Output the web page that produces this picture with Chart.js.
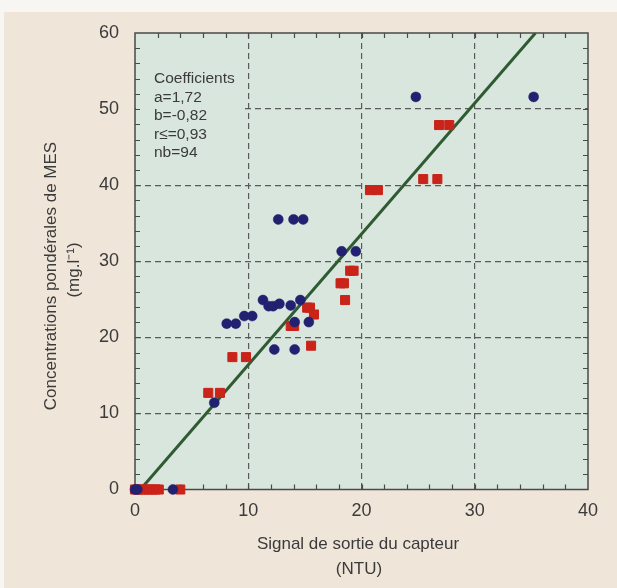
<!DOCTYPE html>
<html>
<head>
<meta charset="utf-8">
<script src="https://cdn.jsdelivr.net/npm/chart.js@4.4.1/dist/chart.umd.min.js"></script>
<style>
  html, body { margin: 0; padding: 0; background: #f7f6f3; }
  #wrap { width: 617px; height: 588px; }
</style>
</head>
<body>
<div id="wrap"><canvas id="c" width="617" height="588"></canvas></div>
<script>
// Turbidity signal (NTU) vs suspended-solids concentration (mg/l)
const blueX = [0.0, 0.2, 3.35, 7.0, 8.1, 8.9, 9.65, 10.35, 11.3, 11.8, 12.2, 12.75, 12.3, 12.65, 13.75, 14.0, 14.1, 14.1, 14.6, 14.85, 15.35, 18.25, 19.5, 24.8, 35.2];
const blueY = [0.0, 0.0, 0.0, 11.4, 21.8, 21.8, 22.8, 22.8, 24.9, 24.1, 24.1, 24.4, 18.4, 35.5, 24.2, 35.5, 22.0, 18.4, 24.9, 35.5, 22.0, 31.3, 31.3, 51.6, 51.6];

const redX = [0.0, 0.3, 0.6, 0.9, 1.2, 1.5, 1.8, 2.1, 4.0, 6.47, 7.5, 8.6, 9.8, 13.75, 14.05, 15.2, 15.45, 15.8, 15.55, 18.15, 18.45, 18.55, 19.0, 19.3, 20.75, 21.45, 25.45, 26.7, 26.85, 27.75];
const redY = [0.0, 0.0, 0.0, 0.0, 0.0, 0.0, 0.0, 0.0, 0.0, 12.7, 12.7, 17.4, 17.4, 21.5, 21.5, 23.9, 23.9, 23.0, 18.9, 27.1, 27.1, 24.9, 28.75, 28.75, 39.35, 39.35, 40.8, 40.8, 47.9, 47.9];

// Regression coefficients shown in the inset
const coefA = 1.72;
const coefB = -0.82;
const coefLines = ['Coefficients', 'a=1,72', 'b=-0,82', 'r≤=0,93', 'nb=94'];

const xTicks = [0, 10, 20, 30, 40];
const yTicks = [0, 10, 20, 30, 40, 50, 60];
const xTitle = ['Signal de sortie du capteur', '(NTU)'];
const yTitle = ['Concentrations pondérales de MES', '(mg.l\u207B\u00B9)'];

const toPts = (xs, ys) => xs.map((x, i) => ({ x: x, y: ys[i] }));
// fitted line y = a*x + b, drawn between y = 0 and y = 60
const fitLine = [
  { x: (0 - coefB) / coefA, y: 0 },
  { x: (60 - coefB) / coefA, y: 60 }
];

const FONT = '"Liberation Sans", Arial, sans-serif';
const TXT = '#3b3b3b';
const PLOT_BG = '#d9e6dd';
const PAGE_BG = '#efe5d9';
const FRAME = '#4a4a4a';

const decor = {
  id: 'decor',
  beforeDraw(chart) {
    const ctx = chart.ctx;
    const a = chart.chartArea;
    ctx.save();
    ctx.fillStyle = '#f7f6f3';
    ctx.fillRect(0, 0, chart.width, chart.height);
    ctx.fillStyle = PAGE_BG;
    ctx.fillRect(4, 12, chart.width - 4, chart.height - 12);
    ctx.fillStyle = PLOT_BG;
    ctx.fillRect(a.left, a.top, a.right - a.left, a.bottom - a.top);
    ctx.restore();
  },
  beforeDatasetsDraw(chart) {
    const ctx = chart.ctx;
    const a = chart.chartArea;
    const xs = chart.scales.x, ys = chart.scales.y;
    ctx.save();
    // inset panel behind the coefficients
    ctx.fillStyle = PLOT_BG;
    ctx.fillRect(a.left + 1, a.top + 1, xs.getPixelForValue(9.4) - a.left - 1, ys.getPixelForValue(42.5) - a.top);
    // frame
    ctx.strokeStyle = FRAME;
    ctx.lineWidth = 1.5;
    ctx.strokeRect(a.left, a.top, a.right - a.left, a.bottom - a.top);
    // inward minor ticks on all four sides
    ctx.lineWidth = 1.2;
    ctx.beginPath();
    for (let v = 2; v < 40; v += 2) {
      const px = Math.round(xs.getPixelForValue(v)) + 0.5;
      ctx.moveTo(px, a.bottom); ctx.lineTo(px, a.bottom - 5);
      ctx.moveTo(px, a.top); ctx.lineTo(px, a.top + 5);
    }
    for (let v = 2; v < 60; v += 2) {
      const py = Math.round(ys.getPixelForValue(v)) + 0.5;
      ctx.moveTo(a.left, py); ctx.lineTo(a.left + 5, py);
      ctx.moveTo(a.right, py); ctx.lineTo(a.right - 5, py);
    }
    ctx.stroke();
    // coefficients text
    ctx.fillStyle = TXT;
    ctx.font = '15.5px ' + FONT;
    ctx.textAlign = 'left';
    ctx.textBaseline = 'middle';
    coefLines.forEach((t, i) => ctx.fillText(t, 154, 79 + i * 18.5));
    // axis titles
    ctx.font = '17px ' + FONT;
    ctx.textAlign = 'center';
    ctx.fillText(xTitle[0], 358, 544);
    ctx.fillText(xTitle[1], 359, 569);
    ctx.save();
    ctx.translate(51, 276);
    ctx.rotate(-Math.PI / 2);
    ctx.fillText(yTitle[0], 0, 0);
    ctx.restore();
    ctx.save();
    ctx.translate(74, 270);
    ctx.rotate(-Math.PI / 2);
    ctx.fillText(yTitle[1], 0, 0);
    ctx.restore();
    ctx.restore();
  }
};

const gridColor = (ctx) => {
  const v = ctx.tick && ctx.tick.value;
  const s = ctx.scale;
  return (v === s.min || v === s.max) ? 'rgba(0,0,0,0)' : '#5a5a5a';
};

new Chart(document.getElementById('c'), {
  type: 'scatter',
  data: {
    datasets: [
      {
        type: 'line',
        data: fitLine,
        borderColor: '#2f5b33',
        borderWidth: 3,
        pointRadius: 0,
        fill: false,
        order: 3
      },
      {
        data: toPts(redX, redY),
        pointStyle: 'rect',
        pointRadius: 6.4,
        backgroundColor: '#c9231a',
        borderColor: '#c9231a',
        borderWidth: 1,
        clip: false,
        order: 2
      },
      {
        data: toPts(blueX, blueY),
        pointStyle: 'circle',
        pointRadius: 5,
        backgroundColor: '#222070',
        borderColor: '#222070',
        borderWidth: 0.5,
        clip: false,
        order: 1
      }
    ]
  },
  plugins: [decor],
  options: {
    responsive: false,
    animation: false,
    events: [],
    layout: { padding: { top: 33, right: 29, left: 0, bottom: 0 } },
    plugins: { legend: { display: false }, tooltip: { enabled: false } },
    scales: {
      x: {
        type: 'linear',
        min: 0, max: 40,
        afterBuildTicks: (s) => { s.ticks = xTicks.map(v => ({ value: v })); },
        afterFit: (s) => { s.height = 98.5; },
        ticks: { color: TXT, font: { family: FONT, size: 18 }, padding: 11, maxRotation: 0 },
        grid: { color: gridColor, lineWidth: 1.2, drawTicks: false },
        border: { display: false, dash: [6, 4] }
      },
      y: {
        type: 'linear',
        min: 0, max: 60,
        afterBuildTicks: (s) => { s.ticks = yTicks.map(v => ({ value: v })); },
        afterFit: (s) => { s.width = 135; },
        ticks: { color: TXT, font: { family: FONT, size: 18 }, padding: 16 },
        grid: { color: gridColor, lineWidth: 1.2, drawTicks: false },
        border: { display: false, dash: [6, 4] }
      }
    }
  }
});
</script>
</body>
</html>
